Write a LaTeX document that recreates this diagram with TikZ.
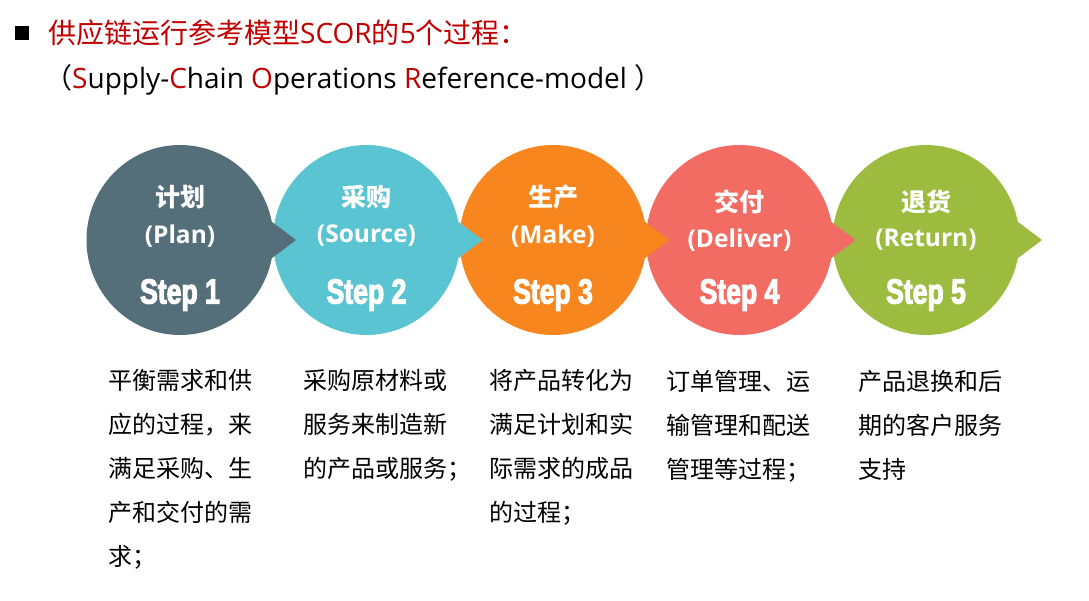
\documentclass[tikz,border=0pt]{standalone}
\usepackage{fontspec}
\setmainfont{Noto Sans CJK SC}
\newfontfamily\latinfont{Open Sans}
\newfontfamily\stepfont{Liberation Sans}[FakeStretch=0.76,FakeBold=3]
\usetikzlibrary{shapes.geometric}

\definecolor{titlered}{HTML}{C00000}
\definecolor{planc}{HTML}{546E7A}
\definecolor{sourcec}{HTML}{5BC4D2}
\definecolor{makec}{HTML}{F7861F}
\definecolor{deliverc}{HTML}{F26C64}
\definecolor{returnc}{HTML}{9CBB3F}

\begin{document}
\begin{tikzpicture}[
    x=1pt,y=-1pt,
    stage/.style={ellipse,minimum width=187pt,minimum height=190pt,inner sep=0pt},
    cn/.style={text=white,font=\fontsize{25}{27}\selectfont\bfseries},
    en/.style={text=white,font=\fontsize{24.5}{27}\selectfont\latinfont\bfseries},
    stepno/.style={text=white,font=\fontsize{35}{37}\selectfont\stepfont\bfseries},
    desc/.style={anchor=north west,inner sep=0pt,align=left,
                 font=\fontsize{24}{44}\selectfont}
  ]
  \useasboundingbox (0,0) rectangle (1089,601);

  % heading
  \node[fill=black,minimum size=14pt,inner sep=0pt] (bullet) at (22,33) {};
  \node[anchor=west,inner sep=0pt,text=titlered,font=\fontsize{28}{30}\selectfont]
       (title) at (48,33) {供应链运行参考模型{\latinfont SCOR}的{\latinfont 5}个过程：};
  \node[anchor=west,inner sep=0pt,font=\fontsize{28}{30}\selectfont] (subtitle) at (44,80)
       {（{\latinfont\textcolor{titlered}{S}upply-\textcolor{titlered}{C}hain
        \textcolor{titlered}{O}perations \textcolor{titlered}{R}eference-model }）};

  % the five circles
  \node[stage,fill=planc]    (s1) at (180,240)   {};
  \node[stage,fill=sourcec]  (s2) at (366.5,240) {};
  \node[stage,fill=makec]    (s3) at (553,240)   {};
  \node[stage,fill=deliverc] (s4) at (739.5,240) {};
  \node[stage,fill=returnc]  (s5) at (926,240)   {};

  % pointers, drawn over the next circle
  \foreach \s/\c in {s1/planc,s2/sourcec,s3/makec,s4/deliverc,s5/returnc}
    \fill[\c] ([shift={(88,-21)}]\s.center) -- ([shift={(116,0)}]\s.center)
              -- ([shift={(88,21)}]\s.center) -- cycle;

  \node[cn] (cn1) at ([yshift=43]s1.center) {计划};
  \node[en] (en1) at ([yshift=4]s1.center)  {(Plan)};
  \node[stepno] (no1) at ([yshift=-55]s1.center) {Step 1};

  \node[cn] (cn2) at ([yshift=43]s2.center) {采购};
  \node[en] (en2) at ([yshift=4]s2.center)  {(Source)};
  \node[stepno] (no2) at ([yshift=-55]s2.center) {Step 2};

  \node[cn] (cn3) at ([yshift=43]s3.center) {生产};
  \node[en] (en3) at ([yshift=4]s3.center)  {(Make)};
  \node[stepno] (no3) at ([yshift=-55]s3.center) {Step 3};

  \node[cn] (cn4) at ([yshift=38]s4.center) {交付};
  \node[en] (en4) at ([yshift=0]s4.center)  {(Deliver)};
  \node[stepno] (no4) at ([yshift=-55]s4.center) {Step 4};

  \node[cn] (cn5) at ([yshift=38]s5.center) {退货};
  \node[en] (en5) at ([yshift=0]s5.center)  {(Return)};
  \node[stepno] (no5) at ([yshift=-55]s5.center) {Step 5};

  % descriptions
  \node[desc] (d1) at (108,369) {平衡需求和供\\应的过程，来\\满足采购、生\\产和交付的需\\求；};
  \node[desc] (d2) at (303,369) {采购原材料或\\服务来制造新\\的产品或服务；};
  \node[desc] (d3) at (489,369) {将产品转化为\\满足计划和实\\际需求的成品\\的过程；};
  \node[desc] (d4) at (666,370) {订单管理、运\\输管理和配送\\管理等过程；};
  \node[desc] (d5) at (858,370) {产品退换和后\\期的客户服务\\支持};
\end{tikzpicture}
\end{document}
